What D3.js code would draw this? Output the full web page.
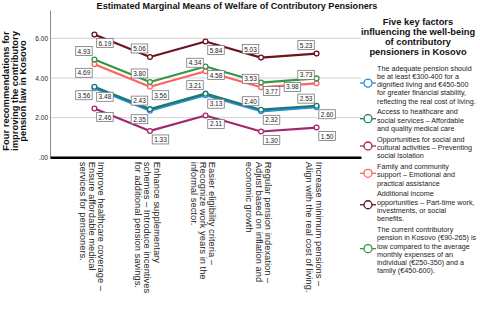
<!DOCTYPE html>
<html><head><meta charset="utf-8">
<script src="https://cdn.jsdelivr.net/npm/d3@7"></script>
<style>
body{margin:0;background:#fff}
svg{display:block;font-family:"Liberation Sans",Arial,sans-serif}
</style>
</head><body><svg id="c" width="480" height="315"></svg>
<script>
// ---------- data ----------
const chartTitle = "Estimated Marginal Means of Welfare of Contributory Pensioners";
const yTitle = ["Four recommendations for", "improving the contributory", "pension law in Kosovo"];
const legendTitle = ["Five key factors", "influencing the well-being", "of contributory", "pensioners in Kosovo"];
const categories = [
  "Improve healthcare coverage –\nEnsure affordable medical\nservices for pensioners.",
  "Enhance supplementary\nschemes – Introduce incentives\nfor additional pension savings.",
  "Easier eligibility criteria –\nRecognize work years in the\ninformal sector.",
  "Regular pension indexation –\nAdjust based on inflation and\neconomic growth",
  "Increase minimum pensions –\nAlign with the real cost of living."
];
const seriesNames = [
  "The adequate pension should\nbe at least €300-400 for a\ndignified living and €450-500\nfor greater financial stability,\nreflecting the real cost of living.",
  "Access to healthcare and\nsocial services – Affordable\nand quality medical care",
  "Opportunities for social and\ncultural activities – Preventing\nsocial isolation",
  "Family and community\nsupport – Emotional and\npractical assistance",
  "Additional income\nopportunities – Part-time work,\ninvestments, or social\nbenefits.",
  "The current contributory\npension in Kosovo (€90-265) is\nlow compared to the average\nmonthly expenses of an\nindividual (€250-350) and a\nfamily (€450-600)."
];
const adequatePension  = [3.48, 2.35, 3.13, 2.32, 2.53];
const healthcareAccess = [3.56, 2.43, 3.21, 2.40, 2.60];
const socialActivities = [2.46, 1.33, 2.11, 1.30, 1.50];
const familySupport    = [4.69, 3.56, 4.34, 3.53, 3.73];
const additionalIncome = [6.19, 5.06, 5.84, 5.03, 5.23];
const currentPension   = [4.93, 3.80, 4.58, 3.77, 3.98];
const seriesValues = [adequatePension, healthcareAccess, socialActivities, familySupport, additionalIncome, currentPension];
const yTicks = [0, 2, 4, 6];

// ---------- styles / layout ----------
const colors = ["#2a8fd8", "#1d7771", "#a3276c", "#ff6262", "#6b1321", "#359646"];
// label placement per series/point: [dx units, dy units]
const labelPlace = [
  [[1,1],[-1,1],[1,1],[1,1],[-1,-1]],
  [[-1,1],[-1,-1],[-1,-1],[-1,-1],[1,1]],
  [[1,1],[1,1],[1,1],[1,1],[1,1]],
  [[-1,1],[1,1],[-1,-1],[-1,-1],[-1,-1]],
  [[1,1],[-1,-1],[1,1],[-1,-1],[-1,-1]],
  [[-1,-1],[-1,-1],[1,1],[1,1],[-2.3,1]]
];
const plot = {left: 50, right: 361, top: 10, bottom: 157.3};

const svg = d3.select("#c");

const x = d3.scalePoint().domain(d3.range(categories.length)).range([plot.left, plot.right]).padding(0.8);
const y = d3.scaleLinear().domain([0, 7.43]).range([plot.bottom, plot.top]);

// gridlines
svg.append("g").selectAll("line").data(yTicks.filter(d => d > 0)).join("line")
  .attr("x1", plot.left).attr("x2", plot.right)
  .attr("y1", d => y(d)).attr("y2", d => y(d))
  .attr("stroke", "#d3d3d3").attr("stroke-width", 1);

// y axis
const yAxis = svg.append("g").attr("transform", `translate(${plot.left},0)`)
  .call(d3.axisLeft(y).tickValues(yTicks).tickSize(0).tickSizeOuter(0).tickPadding(2)
    .tickFormat(d => d3.format(".2f")(d).replace(/^0/, "")));
yAxis.select(".domain").attr("stroke", "#8a8a8a").attr("stroke-width", 1);
yAxis.selectAll("text").attr("font-size", 6.5).attr("fill", "#222").attr("font-family", "Liberation Sans, Arial, sans-serif");

// x axis
const xAxis = svg.append("g").attr("transform", `translate(0,${y(0)})`)
  .call(d3.axisBottom(x).tickSize(0).tickSizeOuter(0));
xAxis.select(".domain").attr("stroke", "#000").attr("stroke-width", 2.5);
const lh = 9.2;
xAxis.selectAll(".tick text").each(function(d) {
  const t = d3.select(this);
  const lines = categories[d].split("\n");
  const n = lines.length;
  t.text(null).attr("transform", "rotate(90)").attr("y", null).attr("dy", null)
    .attr("text-anchor", "start").attr("font-size", 9.4).attr("fill", "#222")
    .attr("font-family", "Liberation Sans, Arial, sans-serif");
  lines.forEach((ln, i) => {
    t.append("tspan").attr("x", 4.5).attr("y", 2.5 + (i - (n - 1) / 2) * lh)
      .attr("dominant-baseline", "central").text(ln);
  });
});

// lines + markers
const line = d3.line().x((d, i) => x(i)).y(d => y(d));
seriesValues.forEach((vals, s) => {
  svg.append("path").datum(vals).attr("d", line)
    .attr("fill", "none").attr("stroke", colors[s]).attr("stroke-width", 2.2)
    .attr("stroke-linejoin", "round");
});
seriesValues.forEach((vals, s) => {
  svg.append("g").selectAll("circle").data(vals).join("circle")
    .attr("cx", (d, i) => x(i)).attr("cy", d => y(d)).attr("r", 2.4)
    .attr("fill", "#fff").attr("stroke", colors[s]).attr("stroke-width", 1.3);
});

// value labels
const bw = 16.5, bh = 9;
seriesValues.forEach((vals, s) => {
  vals.forEach((v, i) => {
    const [ux, uy] = labelPlace[s][i];
    const cx = x(i) + ux * 10.5, cy = y(v) + uy * 8.5;
    const g = svg.append("g");
    g.append("rect").attr("x", cx - bw / 2).attr("y", cy - bh / 2).attr("width", bw).attr("height", bh)
      .attr("fill", "#fff").attr("stroke", "#777").attr("stroke-width", 0.8);
    g.append("text").attr("x", cx).attr("y", cy).attr("text-anchor", "middle")
      .attr("dominant-baseline", "central").attr("font-size", 6.5).attr("fill", "#222")
      .text(d3.format(".2f")(v));
  });
});

// title
svg.append("text").attr("x", 237).attr("y", 8.5).attr("text-anchor", "middle")
  .attr("font-size", 9.1).attr("font-weight", "bold").attr("fill", "#111").text(chartTitle);

// y title
yTitle.forEach((ln, i) => {
  svg.append("text").attr("transform", `translate(${5.7 + i * 8.3},91) rotate(-90)`)
    .attr("text-anchor", "middle").attr("dominant-baseline", "central")
    .attr("font-size", 9.4).attr("font-weight", "bold").attr("fill", "#111").text(ln);
});

// legend
legendTitle.forEach((ln, i) => {
  svg.append("text").attr("x", 418).attr("y", 21.8 + i * 10.2).attr("text-anchor", "middle")
    .attr("dominant-baseline", "central").attr("font-size", 9.3).attr("font-weight", "bold")
    .attr("fill", "#111").text(ln);
});
let ly = 68;
const llh = 8.3, lgap = 2.4;
seriesNames.forEach((name, s) => {
  const lines = name.split("\n");
  const g = svg.append("g");
  lines.forEach((ln, i) => {
    g.append("text").attr("x", 377).attr("y", ly + i * llh).attr("dominant-baseline", "central")
      .attr("font-size", 7.2).attr("fill", "#222").text(ln);
  });
  const my = ly + (lines.length - 1) * llh / 2 - 1.5;
  g.append("line").attr("x1", 360).attr("x2", 376).attr("y1", my).attr("y2", my)
    .attr("stroke", colors[s]).attr("stroke-width", 1.3);
  g.append("circle").attr("cx", 368).attr("cy", my).attr("r", 4)
    .attr("fill", "#fff").attr("stroke", colors[s]).attr("stroke-width", 1.3);
  ly += lines.length * llh + lgap;
});
</script></body></html>
